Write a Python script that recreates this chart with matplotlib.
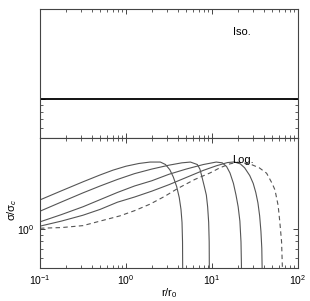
import numpy as np
import matplotlib.pyplot as plt
from matplotlib.ticker import FixedLocator, NullFormatter, LogFormatterMathtext

plt.rcParams['font.family'] = ['Liberation Sans', 'DejaVu Sans']
plt.rcParams['mathtext.fontset'] = 'custom'
plt.rcParams['mathtext.rm'] = 'Liberation Sans'
plt.rcParams['mathtext.it'] = 'Liberation Sans:italic'

# isothermal panel: flat line
iso_r = [0.1, 100.0]
iso_sigma = [1.0, 1.0]

# log panel: curves, stored as log10(r/r0), log10(sigma/sigma_c)
c1_lr = [-1.0, -0.75, -0.5, -0.3, -0.15, 0.0, 0.15, 0.28, 0.40, 0.46, 0.51, 0.55, 0.59, 0.62, 0.64, 0.652, 0.658, 0.66]
c1_ls = [0.223, 0.293, 0.362, 0.415, 0.452, 0.482, 0.503, 0.514, 0.514, 0.495, 0.455, 0.40, 0.325, 0.24, 0.15, 0.05, -0.1, -0.35]

c2_lr = [-1.0, -0.75, -0.5, -0.3, -0.1, 0.1, 0.3, 0.5, 0.65, 0.75, 0.83, 0.86, 0.88, 0.91, 0.935, 0.95, 0.962, 0.968, 0.97]
c2_ls = [0.136, 0.207, 0.277, 0.33, 0.38, 0.425, 0.46, 0.49, 0.508, 0.514, 0.495, 0.46, 0.41, 0.33, 0.26, 0.17, 0.05, -0.1, -0.35]

c3_lr = [-1.0, -0.75, -0.5, -0.3, -0.1, 0.1, 0.3, 0.5, 0.7, 0.9, 1.05, 1.12, 1.17, 1.21, 1.25, 1.28, 1.305, 1.325, 1.338, 1.345]
c3_ls = [0.054, 0.11, 0.17, 0.225, 0.28, 0.33, 0.37, 0.42, 0.46, 0.495, 0.514, 0.508, 0.48, 0.43, 0.35, 0.26, 0.17, 0.06, -0.1, -0.35]

c4_lr = [-1.0, -0.75, -0.5, -0.3, -0.1, 0.1, 0.3, 0.5, 0.7, 0.9, 1.05, 1.18, 1.26, 1.33, 1.38, 1.44, 1.48, 1.51, 1.535, 1.555, 1.57, 1.58, 1.585]
c4_ls = [0.021, 0.06, 0.105, 0.15, 0.205, 0.245, 0.29, 0.34, 0.395, 0.45, 0.485, 0.51, 0.515, 0.50, 0.47, 0.41, 0.35, 0.28, 0.20, 0.10, -0.02, -0.15, -0.35]

cd_lr = [-1.0, -0.75, -0.5, -0.3, -0.07, 0.1, 0.279, 0.45, 0.6, 0.8, 0.977, 1.093, 1.209, 1.30, 1.44, 1.55, 1.636, 1.70, 1.733, 1.77, 1.79, 1.81, 1.822]
cd_ls = [0.005, 0.01, 0.025, 0.06, 0.10, 0.14, 0.19, 0.25, 0.31, 0.38, 0.43, 0.47, 0.50, 0.513, 0.50, 0.47, 0.428, 0.35, 0.30, 0.18, 0.05, -0.1, -0.35]

solid = [(c1_lr, c1_ls), (c2_lr, c2_ls), (c3_lr, c3_ls), (c4_lr, c4_ls)]

fig = plt.figure(figsize=(3.1, 3.01), dpi=100)
ax_top = fig.add_axes([0.129, 0.5415, 0.832, 0.4285])
ax_bot = fig.add_axes([0.129, 0.1096, 0.832, 0.4319])

for ax in (ax_top, ax_bot):
    ax.set_xscale('log')
    ax.set_yscale('log')
    ax.set_xlim(0.1, 100)
    ax.set_ylim(0.5, 5)
    ax.xaxis.set_major_locator(FixedLocator([0.1, 1, 10, 100]))
    ax.xaxis.set_minor_locator(FixedLocator([m * d for d in (0.1, 1, 10) for m in range(2, 10)]))
    ax.yaxis.set_major_locator(FixedLocator([1.0]))
    ax.yaxis.set_minor_locator(FixedLocator([0.6, 0.7, 0.8, 0.9]))
    ax.xaxis.set_minor_formatter(NullFormatter())
    ax.yaxis.set_minor_formatter(NullFormatter())
    ax.tick_params(which='both', direction='in', top=True, right=True, color='#444444', labelsize=7.5, pad=4)
    ax.tick_params(which='major', length=3.5, width=0.7)
    ax.tick_params(which='minor', length=2, width=0.6)
    for s in ax.spines.values():
        s.set_linewidth(0.8)
        s.set_color('#444444')

ax_top.xaxis.set_major_formatter(NullFormatter())
ax_top.yaxis.set_major_formatter(NullFormatter())
ax_bot.xaxis.set_major_formatter(LogFormatterMathtext())
ax_bot.yaxis.set_major_formatter(LogFormatterMathtext())

ax_top.plot(iso_r, iso_sigma, color='black', lw=1.3)
ax_top.text(17.5, 3.3, 'Iso.', fontsize=8, ha='left', va='center')

for lr, ls in solid:
    ax_bot.plot(np.power(10.0, lr), np.power(10.0, ls), color='#555555', lw=0.8)
ax_bot.plot(np.power(10.0, cd_lr), np.power(10.0, cd_ls), color='#555555', lw=0.8, ls=(0, (4, 3)))
ax_bot.text(17.0, 3.4, 'Log.', fontsize=8, ha='left', va='center')

ax_bot.set_xlabel('r/r$_0$', fontsize=8, labelpad=-1)
ax_bot.set_ylabel('σ/σ$_c$', fontsize=8, labelpad=0)
ax_bot.yaxis.set_label_coords(-0.08, 0.45)

fig.savefig('out.png', dpi=100)
